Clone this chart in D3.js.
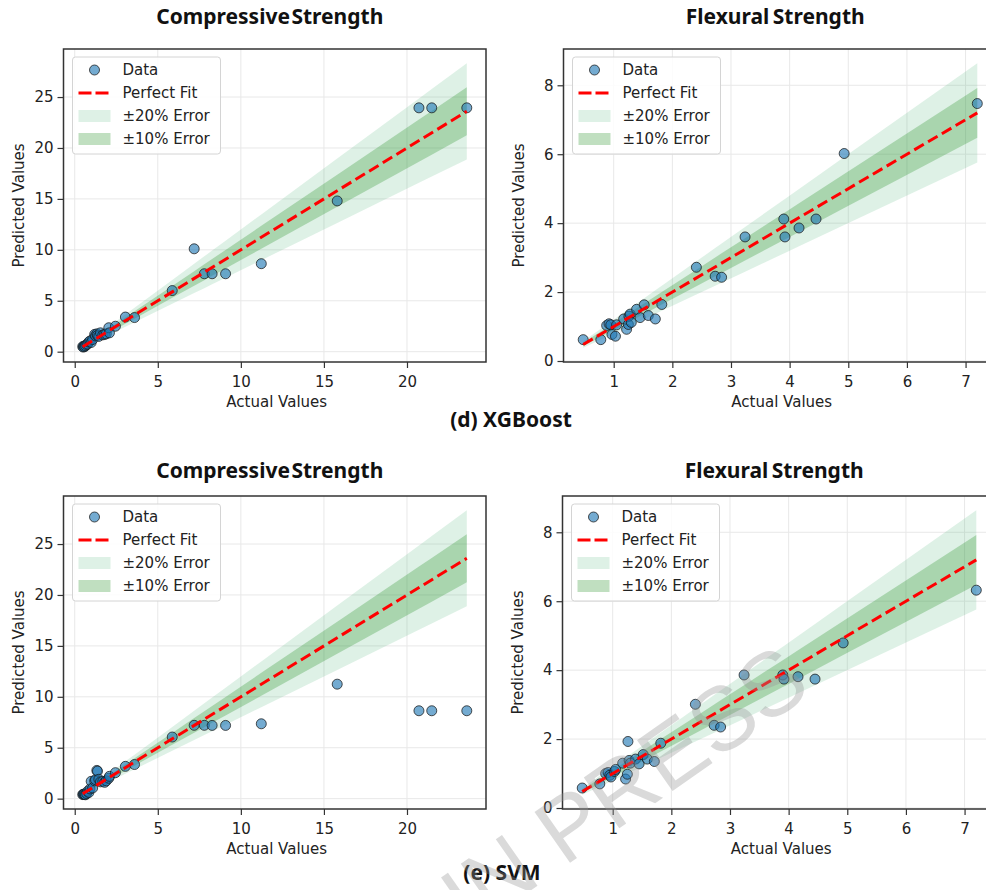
<!DOCTYPE html>
<html>
<head>
<meta charset="utf-8">
<script src="https://cdn.jsdelivr.net/npm/d3@7"></script>
<style>
  body { margin: 0; background: #fff; }
  svg { display: block; }
  text { font-family: "DejaVu Sans", sans-serif; }
</style>
</head>
<body>
<svg id="chart" width="986" height="890"></svg>
<script>
// Test-set values: measured strength vs. model prediction
const compActual = [0.48, 0.52, 0.56, 0.6, 0.65, 0.72, 0.78, 0.85, 0.92, 0.99, 1.08, 1.2, 1.25, 1.33, 1.37, 1.45, 1.55, 1.69, 1.8, 1.9, 2.05, 2.09, 2.45, 3.05, 3.6, 5.87, 7.19, 7.8, 8.27, 9.08, 11.23, 15.8, 20.72, 21.49, 23.6];
const compXgb = [0.5, 0.45, 0.55, 0.5, 0.6, 0.7, 0.75, 0.95, 1.05, 0.9, 1.2, 1.7, 1.55, 1.75, 1.6, 1.5, 1.85, 1.65, 1.7, 1.75, 2.35, 1.85, 2.5, 3.4, 3.35, 6.0, 10.1, 7.65, 7.65, 7.65, 8.64, 14.8, 23.94, 23.94, 23.94];
const compSvm = [0.4, 0.42, 0.45, 0.4, 0.38, 0.5, 0.72, 0.6, 0.95, 1.7, 1.05, 1.75, 1.86, 2.77, 2.7, 1.9, 1.65, 1.7, 1.6, 1.75, 2.0, 2.19, 2.55, 3.17, 3.35, 6.05, 7.2, 7.2, 7.19, 7.19, 7.35, 11.24, 8.63, 8.63, 8.63];

const flexActual = [0.48, 0.78, 0.88, 0.92, 0.95, 0.97, 1.03, 1.05, 1.17, 1.22, 1.25, 1.26, 1.28, 1.3, 1.39, 1.45, 1.52, 1.59, 1.71, 1.82, 2.41, 2.73, 2.84, 3.24, 3.9, 3.92, 4.16, 4.45, 4.93, 7.2];
const flexXgb = [0.62, 0.62, 1.03, 1.08, 1.05, 0.77, 0.72, 1.05, 1.22, 0.92, 1.06, 1.3, 1.36, 1.12, 1.5, 1.26, 1.63, 1.32, 1.22, 1.64, 2.72, 2.46, 2.43, 3.6, 4.12, 3.6, 3.86, 4.12, 6.02, 7.47];
const flexSvm = [0.58, 0.7, 1.0, 1.03, 0.95, 0.9, 1.06, 1.12, 1.3, 0.84, 0.98, 1.93, 1.38, 1.3, 1.42, 1.28, 1.55, 1.42, 1.35, 1.88, 3.01, 2.4, 2.35, 3.86, 3.86, 3.74, 3.81, 3.74, 4.79, 6.32];

// Tick labels
const compTicksX = [0, 5, 10, 15, 20];
const compTicksY = [0, 5, 10, 15, 20, 25];
const flexTicksX = [1, 2, 3, 4, 5, 6, 7];
const flexTicksY = [0, 2, 4, 6, 8];

// Text
const titles = ["Compressive Strength", "Flexural Strength"];
const captions = ["(d) XGBoost", "(e) SVM"];
const legendLabels = ["Data", "Perfect Fit", "\u00b120% Error", "\u00b110% Error"];
const errorBands = [0.2, 0.1];

const svg = d3.select("#chart");

const panels = [
  { title: titles[0], actual: compActual, pred: compXgb, xt: compTicksX, yt: compTicksY, l: 63.5, r: 486, t: 49, b: 362, ty: 24, ws: -4 },
  { title: titles[1], actual: flexActual, pred: flexXgb, xt: flexTicksX, yt: flexTicksY, l: 563.5, r: 997, t: 49, b: 362, ty: 24, ws: -2 },
  { title: titles[0], actual: compActual, pred: compSvm, xt: compTicksX, yt: compTicksY, l: 63.5, r: 486, t: 496, b: 809, ty: 478, ws: -4 },
  { title: titles[1], actual: flexActual, pred: flexSvm, xt: flexTicksX, yt: flexTicksY, l: 562.5, r: 996, t: 496, b: 809, ty: 478, ws: -2 }
];

function padded(vals) {
  const [lo, hi] = d3.extent(vals);
  const m = (hi - lo) * 0.05;
  return [lo - m, hi + m];
}

const band20 = { fill: "rgb(70,180,115)", op: 0.18 };
const band10 = { fill: "rgb(45,150,45)", op: 0.3 };
const dotFill = "#1f77b4";

function drawPanel(p) {
  const lo = d3.min(p.actual), hi = d3.max(p.actual);
  const x = d3.scaleLinear().domain(padded(p.actual)).range([p.l, p.r]);
  const y = d3.scaleLinear()
    .domain(padded([...p.pred, lo * (1 - errorBands[0]), hi * (1 + errorBands[0])]))
    .range([p.b, p.t]);

  const g = svg.append("g");

  // grid
  g.selectAll(null).data(p.xt).join("line")
    .attr("x1", d => x(d)).attr("x2", d => x(d)).attr("y1", p.t).attr("y2", p.b)
    .attr("stroke", "#e8e8e8").attr("stroke-width", 1);
  g.selectAll(null).data(p.yt).join("line")
    .attr("x1", p.l).attr("x2", p.r).attr("y1", d => y(d)).attr("y2", d => y(d))
    .attr("stroke", "#e8e8e8").attr("stroke-width", 1);

  // error bands
  const sorted = [...p.actual].sort(d3.ascending);
  errorBands.forEach((e, i) => {
    const st = i === 0 ? band20 : band10;
    const area = d3.area().x(d => x(d)).y0(d => y(d * (1 - e))).y1(d => y(d * (1 + e)));
    g.append("path").datum(sorted).attr("d", area)
      .attr("fill", st.fill).attr("fill-opacity", st.op);
  });

  // data points
  g.selectAll(null).data(p.actual.map((a, i) => [a, p.pred[i]])).join("circle")
    .attr("cx", d => x(d[0])).attr("cy", d => y(d[1])).attr("r", 5)
    .attr("fill", dotFill).attr("fill-opacity", 0.62)
    .attr("stroke", "#1a1a1a").attr("stroke-opacity", 0.75).attr("stroke-width", 1);

  // perfect fit
  g.append("path").datum([lo, hi])
    .attr("d", d3.line().x(d => x(d)).y(d => y(d)))
    .attr("stroke", "#ff0000").attr("stroke-width", 3).attr("stroke-dasharray", "11,5")
    .attr("fill", "none");

  // spines
  g.append("rect").attr("x", p.l).attr("y", p.t).attr("width", p.r - p.l).attr("height", p.b - p.t)
    .attr("fill", "none").attr("stroke", "#333").attr("stroke-width", 1.5);

  // axes
  const ax = g.append("g").attr("transform", `translate(0,${p.b})`)
    .call(d3.axisBottom(x).tickValues(p.xt).tickSize(6).tickPadding(8).tickFormat(d3.format("d")));
  const ay = g.append("g").attr("transform", `translate(${p.l},0)`)
    .call(d3.axisLeft(y).tickValues(p.yt).tickSize(6).tickPadding(4).tickFormat(d3.format("d")));
  [ax, ay].forEach(a => {
    a.select(".domain").remove();
    a.selectAll(".tick line").attr("stroke", "#333").attr("stroke-width", 1.2);
    a.selectAll(".tick text").attr("fill", "#222").style("font-size", "15px")
      .style("font-family", '"DejaVu Sans", sans-serif');
  });

  // axis titles
  g.append("text").attr("x", (p.l + Math.min(p.r, 996)) / 2 + 2).attr("y", p.b + 45)
    .attr("text-anchor", "middle").attr("fill", "#222").style("font-size", "15px").text("Actual Values");
  g.append("text").attr("transform", `translate(${p.l - 45},${(p.t + p.b) / 2}) rotate(-90)`)
    .attr("dy", "0.35em").attr("text-anchor", "middle").attr("fill", "#222")
    .style("font-size", "15px").text("Predicted Values");

  // panel title
  g.append("text").attr("x", (p.l + p.r) / 2 - 5).attr("y", p.ty)
    .attr("text-anchor", "middle").attr("fill", "#111")
    .style("font-family", '"Noto Sans", sans-serif').style("font-weight", "bold")
    .style("font-size", "21px").style("word-spacing", `${p.ws}px`).text(p.title);

  // legend
  const lg = g.append("g").attr("transform", `translate(${p.l + 9},${p.t + 8})`);
  lg.append("rect").attr("width", 148).attr("height", 97).attr("rx", 3)
    .attr("fill", "#fff").attr("fill-opacity", 0.85).attr("stroke", "#d4d4d4");
  const rows = [13, 36, 59, 82];
  lg.append("circle").attr("cx", 22).attr("cy", rows[0]).attr("r", 5)
    .attr("fill", dotFill).attr("fill-opacity", 0.62)
    .attr("stroke", "#1a1a1a").attr("stroke-opacity", 0.75);
  lg.append("line").attr("x1", 6).attr("x2", 36).attr("y1", rows[1]).attr("y2", rows[1])
    .attr("stroke", "#ff0000").attr("stroke-width", 3).attr("stroke-dasharray", "13,4");
  [band20, band10].forEach((st, i) => {
    lg.append("rect").attr("x", 6).attr("y", rows[2 + i] - 6).attr("width", 32).attr("height", 12)
      .attr("fill", st.fill).attr("fill-opacity", st.op);
  });
  lg.selectAll(null).data(legendLabels).join("text")
    .attr("x", 50).attr("y", (d, i) => rows[i]).attr("dy", "0.35em")
    .attr("fill", "#222").style("font-size", "15px").text(d => d);
}

panels.forEach(drawPanel);

// model captions
[[511, 427], [502, 880]].forEach((pos, i) => {
  svg.append("text").attr("x", pos[0]).attr("y", pos[1]).attr("text-anchor", "middle")
    .attr("fill", "#111").style("font-family", '"Noto Sans", sans-serif')
    .style("font-weight", "bold").style("font-size", "21px").text(captions[i]);
});

// publication stamp across the lower half
svg.append("text").attr("transform", "translate(814,692) rotate(-35)")
  .attr("text-anchor", "end").attr("fill", "rgb(150,150,150)").attr("fill-opacity", 0.35)
  .style("font-family", '"Liberation Sans", sans-serif').style("font-size", "90px")
  .text("ARTICLE IN PRESS");
</script>
</body>
</html>
